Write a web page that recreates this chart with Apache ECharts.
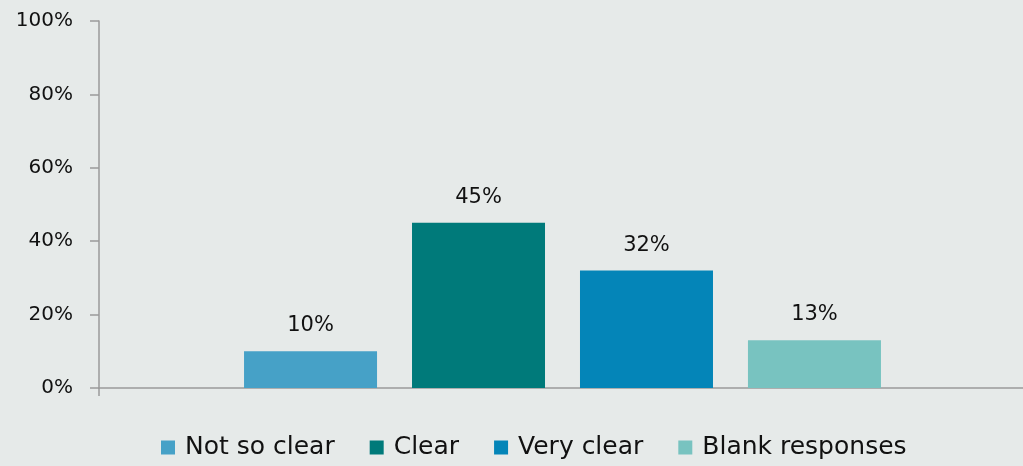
<!DOCTYPE html>
<html>
<head>
<meta charset="utf-8">
<script src="https://cdn.jsdelivr.net/npm/echarts@6/dist/echarts.min.js"></script>
<style>
  html, body { margin: 0; padding: 0; background: #e6eae9; overflow: hidden; }
  #chart { width: 1026px; height: 466px; }
</style>
</head>
<body>
<div id="chart"></div>
<script>
const categories = [''];
const seriesNames = ['Not so clear', 'Clear', 'Very clear', 'Blank responses'];
const seriesValues = [10, 45, 32, 13];
const seriesColors = ['#46a1c7', '#007a7a', '#0485b8', '#78c3c0'];
const yTicks = [0, 20, 40, 60, 80, 100];

const font = '"DejaVu Sans", sans-serif';
const chart = echarts.init(document.getElementById('chart'));

chart.setOption({
  backgroundColor: '#e6eae9',
  textStyle: { fontFamily: font },
  animation: false,
  grid: { left: 99, right: 0, top: 21, bottom: 78, containLabel: false },
  legend: {
    bottom: 1,
    left: 156,
    itemWidth: 14,
    itemHeight: 14,
    itemGap: 35,
    icon: 'rect',
    textStyle: { fontSize: 25, color: '#111', fontFamily: font, padding: [0, 0, 0, 5] },
    data: seriesNames
  },
  xAxis: {
    type: 'category',
    data: categories,
    axisLine: { lineStyle: { color: '#9a9a9a', width: 1.5 } },
    axisTick: { show: true, length: 8, lineStyle: { color: '#9a9a9a', width: 1.5 } },
    axisLabel: { show: false }
  },
  yAxis: {
    type: 'value',
    min: yTicks[0],
    max: yTicks[yTicks.length - 1],
    interval: 20,
    axisLine: { show: true, lineStyle: { color: '#9a9a9a', width: 1.5 } },
    axisTick: { show: true, length: 9, lineStyle: { color: '#9a9a9a', width: 1.5 } },
    splitLine: { show: false },
    axisLabel: {
      formatter: v => v + '%',
      fontSize: 20,
      color: '#111',
      margin: 26,
      fontFamily: font
    }
  },
  series: seriesNames.map((name, i) => ({
    name,
    type: 'bar',
    data: [seriesValues[i]],
    barWidth: 133,
    barGap: '26.3%',
    itemStyle: { color: seriesColors[i] },
    label: {
      show: true,
      position: 'top',
      distance: 15,
      formatter: p => p.value + '%',
      fontSize: 21,
      color: '#111',
      fontFamily: font
    }
  }))
});
</script>
</body>
</html>
